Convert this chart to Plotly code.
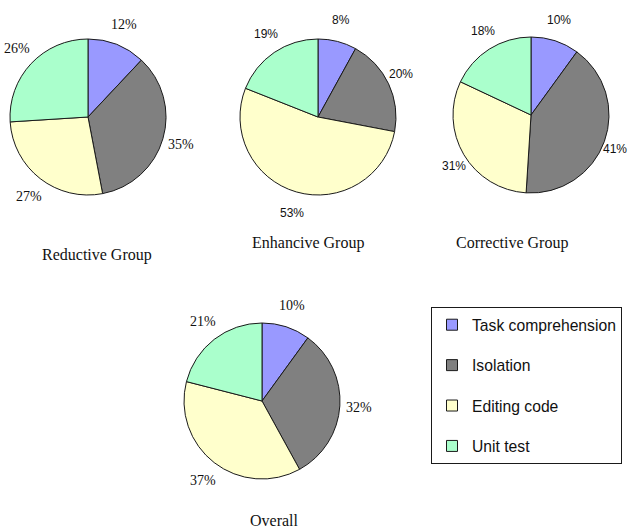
import math
import plotly.graph_objects as go

W, H = 629, 531

categories = ["Task comprehension", "Isolation", "Editing code", "Unit test"]
colors = ["#9999FF", "#808080", "#FFFFCC", "#AAFFCC"]

group_names = ["Reductive Group", "Enhancive Group", "Corrective Group", "Overall"]
reductive = [12, 35, 27, 26]
enhancive = [8, 20, 53, 19]
corrective = [10, 41, 31, 18]
overall = [10, 32, 37, 21]
group_values = [reductive, enhancive, corrective, overall]

# placement (pixels): pie centre, title centre, label font, label radii
placements = [
    dict(cx=88, cy=117, tx=97, ty=255, font="Liberation Serif", size=14, lrx=97, lry=100),
    dict(cx=318, cy=117, tx=308, ty=243, font="Liberation Sans", size=12, lrx=92, lry=100),
    dict(cx=531, cy=115, tx=512, ty=243, font="Liberation Sans", size=12, lrx=89, lry=100),
    dict(cx=262, cy=401, tx=274, ty=520, font="Liberation Serif", size=14, lrx=97, lry=100),
]
R = 78

fig = go.Figure()
annotations = []

for name, vals, p in zip(group_names, group_values, placements):
    cx, cy = p["cx"], p["cy"]
    fig.add_trace(go.Pie(
        labels=categories, values=vals, sort=False, direction="clockwise",
        rotation=0, textinfo="none", showlegend=False, name=name,
        marker=dict(colors=colors, line=dict(color="#1a1a1a", width=1)),
        domain=dict(x=[(cx - R) / W, (cx + R) / W],
                    y=[1 - (cy + R) / H, 1 - (cy - R) / H]),
    ))
    total = sum(vals)
    cum = 0
    for v in vals:
        mid = (cum + v / 2) / total * 2 * math.pi
        cum += v
        lx = cx + p["lrx"] * math.sin(mid)
        ly = cy - p["lry"] * math.cos(mid)
        annotations.append(dict(
            x=lx / W, y=1 - ly / H, xref="paper", yref="paper",
            text=f"{round(v / total * 100)}%", showarrow=False,
            xanchor="center", yanchor="middle",
            font=dict(family=p["font"], size=p["size"], color="#111111"),
        ))
    annotations.append(dict(
        x=p["tx"] / W, y=1 - p["ty"] / H, xref="paper", yref="paper",
        text=name, showarrow=False, xanchor="center", yanchor="middle",
        font=dict(family="Liberation Serif", size=16, color="#111111"),
    ))

# legend entries
for cat, col in zip(categories, colors):
    fig.add_trace(go.Scatter(
        x=[None], y=[None], mode="markers", name=cat, legendgroup=cat,
        marker=dict(symbol="square", size=11, color=col,
                    line=dict(color="#1a1a1a", width=1)),
    ))

fig.update_layout(
    width=W, height=H, autosize=False,
    margin=dict(l=0, r=0, t=0, b=0),
    paper_bgcolor="white", plot_bgcolor="white",
    xaxis=dict(visible=False), yaxis=dict(visible=False),
    annotations=annotations,
    legend=dict(
        x=431 / W, y=1 - 307 / H, xanchor="left", yanchor="top",
        bordercolor="#1a1a1a", borderwidth=1, bgcolor="white",
        font=dict(family="Liberation Sans", size=15.7, color="#111111"),
        traceorder="grouped", tracegroupgap=17,
    ),
)

fig.write_html("out.html")
